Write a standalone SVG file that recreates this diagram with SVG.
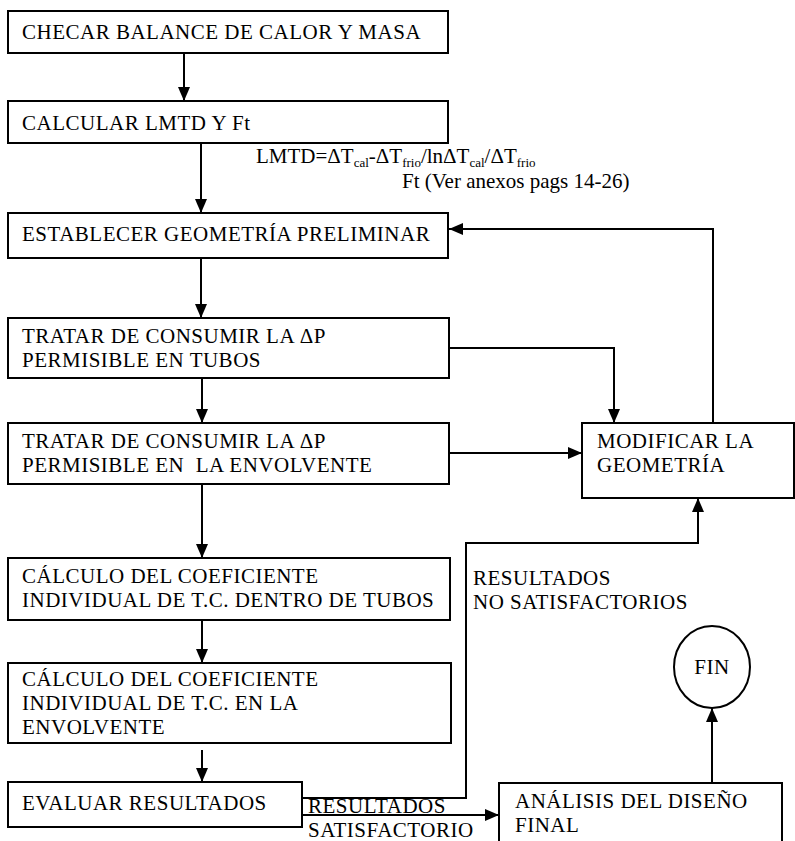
<svg xmlns="http://www.w3.org/2000/svg" width="795" height="841" viewBox="0 0 795 841">
  <style>
    .box { fill: #fff; stroke: #000; stroke-width: 2; }
    .lbl { font-family: "Liberation Serif", "Times New Roman", serif; font-size: 21px; letter-spacing: 0.5px; fill: #000; }
    .note { font-family: "Liberation Serif", "Times New Roman", serif; font-size: 21px; fill: #000; }
    .sub { font-size: 13px; }
    .wire { fill: none; stroke: #000; stroke-width: 2; }
  </style>
  <defs>
    <marker id="arrow" markerUnits="userSpaceOnUse" markerWidth="14" markerHeight="12" refX="14" refY="6" orient="auto">
      <path d="M0,0 L14,6 L0,12 Z" fill="#000"/>
    </marker>
  </defs>
  <rect width="795" height="841" fill="#fff"/>

  <!-- connectors -->
  <g id="connectors">
    <path class="wire" d="M184,53 V101" marker-end="url(#arrow)"/>
    <path class="wire" d="M201,143 V213" marker-end="url(#arrow)"/>
    <path class="wire" d="M201,258 V318" marker-end="url(#arrow)"/>
    <path class="wire" d="M202,378 V423" marker-end="url(#arrow)"/>
    <path class="wire" d="M202,484 V558" marker-end="url(#arrow)"/>
    <path class="wire" d="M202,620 V663" marker-end="url(#arrow)"/>
    <path class="wire" d="M202,750 V782" marker-end="url(#arrow)"/>
    <!-- loop back: modify geometry -> preliminary geometry -->
    <path class="wire" d="M713,423 V229 H449" marker-end="url(#arrow)"/>
    <!-- tube pressure drop -> modify -->
    <path class="wire" d="M449,348 H614 V423" marker-end="url(#arrow)"/>
    <!-- shell pressure drop -> modify -->
    <path class="wire" d="M450,453 H582" marker-end="url(#arrow)"/>
    <!-- unsatisfactory results -> modify -->
    <path class="wire" d="M302,798 H466 V543 H698 V498" marker-end="url(#arrow)"/>
    <!-- satisfactory results -> final analysis -->
    <path class="wire" d="M302,815 H499" marker-end="url(#arrow)"/>
    <!-- final analysis -> end -->
    <path class="wire" d="M712,783 V708" marker-end="url(#arrow)"/>
  </g>

  <g id="n-balance">
    <rect class="box" x="8" y="11" width="440" height="42"/>
    <text class="lbl" x="22" y="39">CHECAR BALANCE DE CALOR Y MASA</text>
  </g>

  <g id="n-lmtd">
    <rect class="box" x="8" y="101" width="440" height="42"/>
    <text class="lbl" x="22" y="130">CALCULAR LMTD Y Ft</text>
  </g>

  <g id="lmtd-note">
    <text class="note" x="256" y="163">LMTD=ΔT<tspan class="sub" dy="4">cal</tspan><tspan dy="-4">-ΔT</tspan><tspan class="sub" dy="4">frio</tspan><tspan dy="-4">/lnΔT</tspan><tspan class="sub" dy="4">cal</tspan><tspan dy="-4">/ΔT</tspan><tspan class="sub" dy="4">frio</tspan></text>
    <text class="note" x="402" y="188">Ft (Ver anexos pags 14-26)</text>
  </g>

  <g id="n-geometria">
    <rect class="box" x="8" y="213" width="440" height="45"/>
    <text class="lbl" x="22" y="241">ESTABLECER GEOMETRÍA PRELIMINAR</text>
  </g>

  <g id="n-dp-tubos">
    <rect class="box" x="8" y="318" width="441" height="60"/>
    <text class="lbl" x="22" y="343">TRATAR DE CONSUMIR LA ΔP</text>
    <text class="lbl" x="22" y="367">PERMISIBLE EN TUBOS</text>
  </g>

  <g id="n-dp-envolvente">
    <rect class="box" x="8" y="423" width="441" height="61"/>
    <text class="lbl" x="22" y="448">TRATAR DE CONSUMIR LA ΔP</text>
    <text class="lbl" x="22" y="472" xml:space="preserve">PERMISIBLE EN  LA ENVOLVENTE</text>
  </g>

  <g id="n-coef-tubos">
    <rect class="box" x="8" y="558" width="442" height="62"/>
    <text class="lbl" x="22" y="583">CÁLCULO DEL COEFICIENTE</text>
    <text class="lbl" x="22" y="607">INDIVIDUAL DE T.C. DENTRO DE TUBOS</text>
  </g>

  <g id="n-coef-envolvente">
    <rect class="box" x="8" y="663" width="443" height="80"/>
    <text class="lbl" x="22" y="686">CÁLCULO DEL COEFICIENTE</text>
    <text class="lbl" x="22" y="710">INDIVIDUAL DE T.C. EN LA</text>
    <text class="lbl" x="22" y="734">ENVOLVENTE</text>
  </g>

  <g id="n-evaluar">
    <rect class="box" x="8" y="782" width="294" height="45"/>
    <text class="lbl" x="22" y="810">EVALUAR RESULTADOS</text>
  </g>

  <g id="n-modificar">
    <rect class="box" x="582" y="423" width="212" height="75"/>
    <text class="lbl" x="597" y="448">MODIFICAR LA</text>
    <text class="lbl" x="597" y="472">GEOMETRÍA</text>
  </g>

  <g id="lbl-no-satisf">
    <text class="lbl" x="473" y="585">RESULTADOS</text>
    <text class="lbl" x="473" y="609">NO SATISFACTORIOS</text>
  </g>

  <g id="lbl-satisf">
    <text class="lbl" x="308" y="813">RESULTADOS</text>
    <text class="lbl" x="308" y="837">SATISFACTORIO</text>
  </g>

  <g id="n-analisis">
    <rect class="box" x="499" y="783" width="283" height="70"/>
    <text class="lbl" x="515" y="808">ANÁLISIS DEL DISEÑO</text>
    <text class="lbl" x="515" y="832">FINAL</text>
  </g>

  <g id="n-fin">
    <ellipse class="box" cx="712" cy="667" rx="38" ry="41"/>
    <text class="lbl" x="712" y="674" text-anchor="middle">FIN</text>
  </g>
</svg>
